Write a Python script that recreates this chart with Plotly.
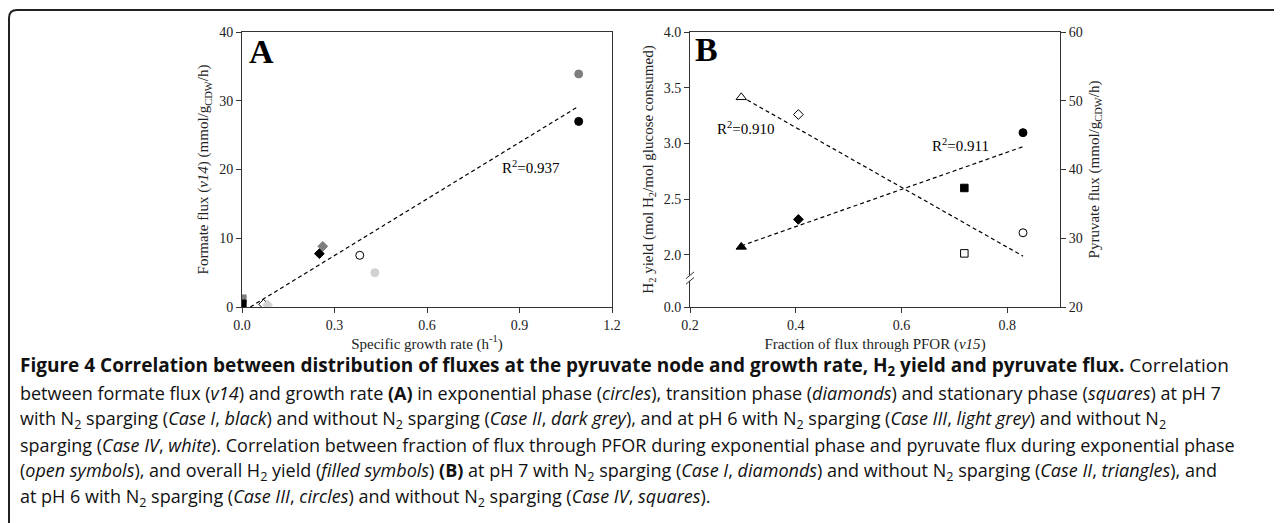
import plotly.graph_objects as go

W, H = 1282, 523
OFF = 8  # the page places the figure 8px in from the top-left corner

# ---------------- Data: panel A (growth rate vs formate flux) ----------------
caseI_A_x = [1.092, 0.251, 0.002]      # circle, diamond, square
caseI_A_y = [27.0, 7.76, 0.5]
caseII_A_x = [1.092, 0.262, 0.002]
caseII_A_y = [33.9, 8.82, 1.25]
caseIII_A_x = [0.431, 0.083]
caseIII_A_y = [5.0, 0.3]
caseIV_A_x = [0.382, 0.070]
caseIV_A_y = [7.52, 0.4]
fitA_x = [0.027, 1.092]
fitA_y = [0.0, 29.2]
r2_A = "0.937"

# ---------------- Data: panel B (PFOR fraction vs H2 yield / pyruvate flux) ----------------
pfor_frac = [0.297, 0.405, 0.830, 0.719]      # Case II (tri), Case I (dia), Case III (circ), Case IV (sq)
h2_yield = [2.07, 2.317, 3.096, 2.599]
pyr_flux = [50.5, 48.0, 30.8, 27.8]
symbolsB = ["triangle-up", "diamond", "circle", "square"]
sizesB = [9, 7.5, 8, 7.5]
fitB_h2_x = [0.297, 0.830]
fitB_h2_y = [2.08, 2.97]
fitB_pyr_x = [0.297, 0.830]
fitB_pyr_y = [50.6, 27.4]
r2_B_pyr = "0.910"
r2_B_h2 = "0.911"

ticksA_x = [0.0, 0.3, 0.6, 0.9, 1.2]
ticksA_y = [0, 10, 20, 30, 40]
ticksB_x = [0.2, 0.4, 0.6, 0.8]
ticksB_y_vals = [1.53, 2.0, 2.5, 3.0, 3.5, 4.0]
ticksB_y_text = ["0.0", "2.0", "2.5", "3.0", "3.5", "4.0"]
ticksB_y2 = [20, 30, 40, 50, 60]

SERIF = "Liberation Serif"
SANS = "Open Sans"
AX = "#333333"

def px_x(p):
    return (p - OFF) / W

def px_y(p):
    return 1 - (p - OFF) / H

fig = go.Figure()

symA = ["circle", "diamond", "square"]
sizeA = [8, 7.5, 7]

# draw order: white, light grey, dark grey, black
for xs, ys, fill, lc in [
    (caseIV_A_x, caseIV_A_y, "white", "black"),
    (caseIII_A_x, caseIII_A_y, "#d2d2d2", "#d2d2d2"),
    (caseII_A_x, caseII_A_y, "#7f7f7f", "#7f7f7f"),
    (caseI_A_x, caseI_A_y, "black", "black"),
]:
    fig.add_trace(go.Scatter(
        x=xs, y=ys, mode="markers", xaxis="x", yaxis="y", showlegend=False,
        marker=dict(symbol=symA[:len(xs)], size=sizeA[:len(xs)], color=fill, opacity=1,
                    line=dict(color=lc, width=1)),
    ))

fig.add_trace(go.Scatter(
    x=fitA_x, y=fitA_y, mode="lines", xaxis="x", yaxis="y", showlegend=False,
    line=dict(color="black", width=1.2, dash="4px,3px"),
))

# Panel B fits
fig.add_trace(go.Scatter(
    x=fitB_h2_x, y=fitB_h2_y, mode="lines", xaxis="x2", yaxis="y2", showlegend=False,
    line=dict(color="black", width=1.2, dash="4px,3px"),
))
fig.add_trace(go.Scatter(
    x=fitB_pyr_x, y=fitB_pyr_y, mode="lines", xaxis="x2", yaxis="y3", showlegend=False,
    line=dict(color="black", width=1.2, dash="4px,3px"),
))
# filled: H2 yield
fig.add_trace(go.Scatter(
    x=pfor_frac, y=h2_yield, mode="markers", xaxis="x2", yaxis="y2", showlegend=False,
    marker=dict(symbol=symbolsB, size=sizesB, color="black", opacity=1,
                line=dict(color="black", width=1)),
))
# open: pyruvate flux
fig.add_trace(go.Scatter(
    x=pfor_frac, y=pyr_flux, mode="markers", xaxis="x2", yaxis="y3", showlegend=False,
    marker=dict(symbol=symbolsB, size=sizesB, color="white", opacity=1,
                line=dict(color="black", width=1)),
))

axis_common = dict(
    showgrid=False, zeroline=False, showline=True, linecolor=AX, linewidth=1,
    ticks="outside", ticklen=5, tickwidth=1, tickcolor=AX, automargin=False,
    tickfont=dict(family=SERIF, size=14, color="#222"),
    title_font=dict(family=SERIF, size=15, color="#222"),
)

fig.update_layout(
    template="none",
    width=W, height=H,
    margin=dict(l=0, r=0, t=0, b=0, pad=0),
    paper_bgcolor="white", plot_bgcolor="white",
    xaxis=dict(axis_common, domain=[px_x(242), px_x(612)], range=[0, 1.2],
               tickvals=ticksA_x, tickformat=".1f", mirror=True, anchor="y",
               title=dict(text="Specific growth rate (h<sup>-1</sup>)", standoff=6)),
    yaxis=dict(axis_common, domain=[px_y(307), px_y(32)], range=[0, 40],
               tickvals=ticksA_y, mirror=True, anchor="x",
               title=dict(text="Formate flux (<i>v14</i>) (mmol/g<sub>CDW</sub>/h)", standoff=6)),
    xaxis2=dict(axis_common, domain=[px_x(690), px_x(1060)], range=[0.2, 0.9],
                tickvals=ticksB_x, tickformat=".1f", mirror=True, anchor="y2",
                title=dict(text="Fraction of flux through PFOR (<i>v15</i>)", standoff=6)),
    yaxis2=dict(axis_common, domain=[px_y(307), px_y(32)], range=[1.53, 4.0],
                tickvals=ticksB_y_vals, ticktext=ticksB_y_text, anchor="x2",
                title=dict(text="H<sub>2</sub> yield (mol H<sub>2</sub>/mol glucose consumed)", standoff=6)),
    yaxis3=dict(axis_common, range=[20, 60], overlaying="y2", side="right", anchor="x2",
                tickvals=ticksB_y2,
                title=dict(text="Pyruvate flux (mmol/g<sub>CDW</sub>/h)", standoff=6)),
)

def centered(text, x, y, size, xref="paper", yref="paper"):
    return dict(text=text, x=x, y=y, xref=xref, yref=yref, xanchor="center", yanchor="middle",
                showarrow=False, font=dict(family=SERIF, size=size, color="black"))

annotations = [
    centered("<b>A</b>", px_x(261), px_y(51), 34),
    centered("<b>B</b>", px_x(706), px_y(50), 34),
    centered("R<sup>2</sup>=" + r2_A, 0.937, 20.3, 15, "x", "y"),
    centered("R<sup>2</sup>=" + r2_B_pyr, px_x(745), px_y(128), 15),
    centered("R<sup>2</sup>=" + r2_B_h2, px_x(960), px_y(145), 15),
]

caption_lines = [
    "<b>Figure 4 Correlation between distribution of fluxes at the pyruvate node and growth rate, H<sub>2</sub> yield and pyruvate flux.</b> Correlation",
    "between formate flux (<i>v14</i>) and growth rate <b>(A)</b> in exponential phase (<i>circles</i>), transition phase (<i>diamonds</i>) and stationary phase (<i>squares</i>) at pH 7",
    "with N<sub>2</sub> sparging (<i>Case I</i>, <i>black</i>) and without N<sub>2</sub> sparging (<i>Case II</i>, <i>dark grey</i>), and at pH 6 with N<sub>2</sub> sparging (<i>Case III</i>, <i>light grey</i>) and without N<sub>2</sub>",
    "sparging (<i>Case IV</i>, <i>white</i>). Correlation between fraction of flux through PFOR during exponential phase and pyruvate flux during exponential phase",
    "(<i>open symbols</i>), and overall H<sub>2</sub> yield (<i>filled symbols</i>) <b>(B)</b> at pH 7 with N<sub>2</sub> sparging (<i>Case I</i>, <i>diamonds</i>) and without N<sub>2</sub> sparging (<i>Case II</i>, <i>triangles</i>), and",
    "at pH 6 with N<sub>2</sub> sparging (<i>Case III</i>, <i>circles</i>) and without N<sub>2</sub> sparging (<i>Case IV</i>, <i>squares</i>).",
]
caption_sizes = [19.0, 18.0, 18.0, 18.0, 18.0, 18.0]
line_y = [366, 392.5, 419, 445, 471, 497.5]
for txt, yy, fs in zip(caption_lines, line_y, caption_sizes):
    annotations.append(dict(
        text=txt, x=px_x(18), y=px_y(yy), xref="paper", yref="paper",
        xanchor="left", yanchor="middle", align="left", showarrow=False,
        font=dict(family=SANS, size=fs, color="#111"),
    ))
fig.update_layout(annotations=annotations)

# figure border (rounded top-left corner, running off the right and bottom edges)
x0, y0, r = 9, 10, 8
path = (f"M {px_x(x0)},{px_y(H + 20)} L {px_x(x0)},{px_y(y0 + r)} "
        f"Q {px_x(x0)},{px_y(y0)} {px_x(x0 + r)},{px_y(y0)} L {px_x(W + 20)},{px_y(y0)}")
shapes = [dict(type="path", path=path, xref="paper", yref="paper",
               line=dict(color="#222", width=2))]

# axis break marks on the left axis of panel B
ax_x = px_x(690)
dx = 4 / W
shapes.append(dict(type="line", xref="paper", yref="y2", x0=ax_x, x1=ax_x, y0=1.765, y1=1.815,
                   line=dict(color="white", width=3)))
for yb in (1.765, 1.815):
    shapes.append(dict(type="line", xref="paper", yref="y2", x0=ax_x - dx, x1=ax_x + dx,
                       y0=yb - 0.03, y1=yb + 0.03, line=dict(color=AX, width=1)))
fig.update_layout(shapes=shapes)

fig.write_html("out.html")
